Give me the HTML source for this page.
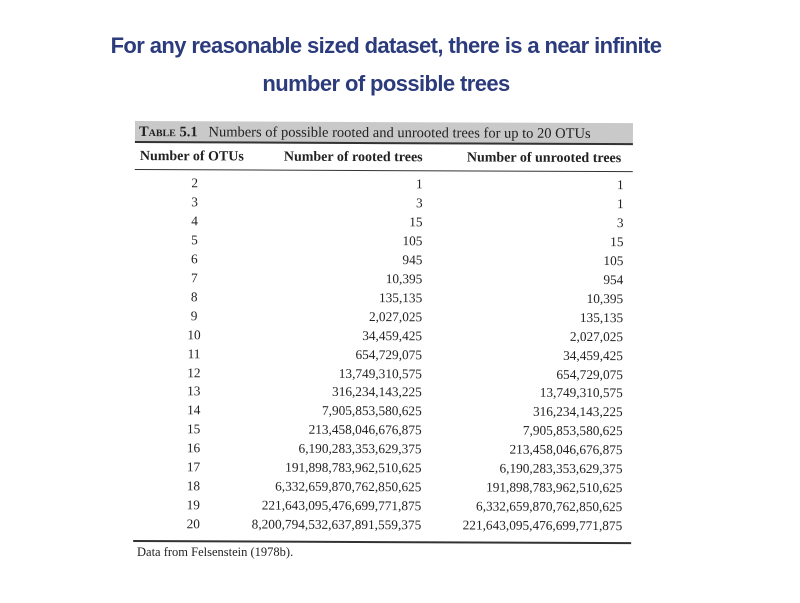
<!DOCTYPE html>
<html><head><meta charset="utf-8"><style>
body{margin:0;width:800px;height:600px;background:#fff;position:relative;overflow:hidden;font-family:"Liberation Serif",serif}
.title{position:absolute;left:0;width:772px;text-align:center;color:#2c3b7c;font-family:"Liberation Sans",sans-serif;font-size:22px;font-weight:bold;letter-spacing:-0.6px}
#tbl{position:absolute;left:0;top:0;width:800px;height:600px;transform:rotate(0.25deg);transform-origin:135px 122px}
.cap{position:absolute;left:135px;top:121px;width:498px;height:22px;background:#c9c9c9;border-bottom:2px solid #333;font-size:14.5px;color:#222;line-height:23px;padding-left:4px;box-sizing:border-box;white-space:nowrap}
.hdr{position:absolute;top:149px;font-size:14px;font-weight:bold;color:#222;white-space:nowrap}
.hl{position:absolute;left:135px;width:498px;background:#333}
.c{position:absolute;font-size:13.3px;color:#222;line-height:16px;white-space:nowrap}
</style></head><body>
<div class="title" style="top:33px">For any reasonable sized dataset, there is a near infinite</div>
<div class="title" style="top:71px">number of possible trees</div>
<div id="tbl">
<div class="cap"><b style="font-variant:small-caps">Table 5.1</b>&nbsp;&nbsp; Numbers of possible rooted and unrooted trees for up to 20 OTUs</div>
<div class="hdr" style="left:140px">Number of OTUs</div>
<div class="hdr" style="left:284px">Number of rooted trees</div>
<div class="hdr" style="left:467px">Number of unrooted trees</div>
<div class="hl" style="top:169px;height:1px"></div>
<div id="rows"></div>
<div class="hl" style="top:540px;height:2px"></div>
</div>
<div class="c" style="left:137px;top:544px;font-size:12.5px">Data from Felsenstein (1978b).</div>
<script>
const otus=[2,3,4,5,6,7,8,9,10,11,12,13,14,15,16,17,18,19,20];
const rooted=["1","3","15","105","945","10,395","135,135","2,027,025","34,459,425","654,729,075","13,749,310,575","316,234,143,225","7,905,853,580,625","213,458,046,676,875","6,190,283,353,629,375","191,898,783,962,510,625","6,332,659,870,762,850,625","221,643,095,476,699,771,875","8,200,794,532,637,891,559,375"];
const unrooted=["1","1","3","15","105","954","10,395","135,135","2,027,025","34,459,425","654,729,075","13,749,310,575","316,234,143,225","7,905,853,580,625","213,458,046,676,875","6,190,283,353,629,375","191,898,783,962,510,625","6,332,659,870,762,850,625","221,643,095,476,699,771,875"];
const rows=document.getElementById('rows');
otus.forEach((o,i)=>{
  const y=175+i*18.95;
  const a=document.createElement('div');a.className='c';a.style.cssText=`left:175px;width:40px;text-align:center;top:${y}px`;a.textContent=o;
  
  
  const b=document.createElement('div');b.className='c';b.style.cssText=`left:223px;width:200px;text-align:right;top:${y}px`;b.textContent=rooted[i];
  
  
  const c=document.createElement('div');c.className='c';c.style.cssText=`left:424px;width:200px;text-align:right;top:${y}px`;c.textContent=unrooted[i];
  
  
  rows.append(a,b,c);
});
</script>
</body></html>
